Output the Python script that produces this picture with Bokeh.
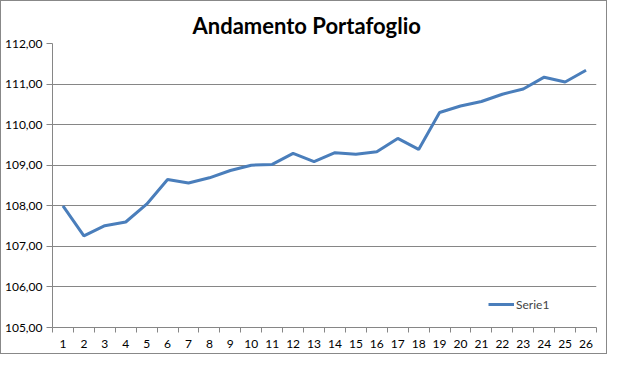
from bokeh.plotting import figure
from bokeh.models import FixedTicker, Range1d, Legend, LegendItem
from bokeh.embed import file_html
from bokeh.resources import INLINE

periods = list(range(1, 27))
values = [108.00, 107.26, 107.51, 107.60, 108.04, 108.65, 108.56, 108.69, 108.87,
          109.00, 109.02, 109.29, 109.09, 109.31, 109.27, 109.33, 109.66, 109.39,
          110.30, 110.46, 110.57, 110.75, 110.88, 111.17, 111.05, 111.34]
y_ticks = [105, 106, 107, 108, 109, 110, 111, 112]
y_labels = {t: f"{t},00" for t in y_ticks}
series_name = "Serie1"
title_text = "Andamento Portafoglio"

FONT = "Lato"
GRAY = "#868686"

p = figure(width=607, height=354, output_backend="svg", toolbar_location=None,
           x_range=Range1d(0.5, 26.5), y_range=Range1d(105, 112),
           min_border_left=50, min_border_right=12, min_border_top=42, min_border_bottom=28,
           background_fill_color="white", border_fill_color="white")
p.styles = {"border": "1px solid #888888"}
p.outline_line_color = None

p.title.text = title_text
p.title.align = "left"
p.title.offset = 140
p.title.text_font = FONT
p.title.text_font_size = "22px"
p.title.text_font_style = "bold"
p.title.text_color = "black"

r = p.line(periods, values, line_color="#4a7ebb", line_width=3)

# x axis
xa = p.xaxis[0]
xa.ticker = FixedTicker(ticks=periods, minor_ticks=[i + 0.5 for i in range(0, 27)])
xa.major_tick_line_color = None
xa.minor_tick_line_color = GRAY
xa.minor_tick_out = 5
xa.minor_tick_in = 0
xa.axis_line_color = GRAY
xa.major_label_text_font = FONT
xa.major_label_text_font_size = "12px"
xa.major_label_text_color = "black"
xa.major_label_standoff = 6

ya = p.yaxis[0]
ya.ticker = FixedTicker(ticks=y_ticks)
ya.major_label_overrides = y_labels
ya.major_tick_line_color = GRAY
ya.major_tick_out = 6
ya.major_tick_in = 0
ya.minor_tick_line_color = None
ya.axis_line_color = GRAY
ya.major_label_text_font = FONT
ya.major_label_text_font_size = "12px"
ya.major_label_text_color = "black"
ya.major_label_standoff = 4

p.xgrid.grid_line_color = None
p.ygrid.grid_line_color = GRAY
p.ygrid.grid_line_width = 1

legend = Legend(items=[LegendItem(label=series_name, renderers=[r])],
                location=(436, 13), border_line_color=None, background_fill_alpha=0,
                label_text_font=FONT, label_text_font_size="12px",
                glyph_width=26, label_standoff=2, padding=4)
p.add_layout(legend, "center")

open("out.html", "w").write(file_html(p, INLINE))
